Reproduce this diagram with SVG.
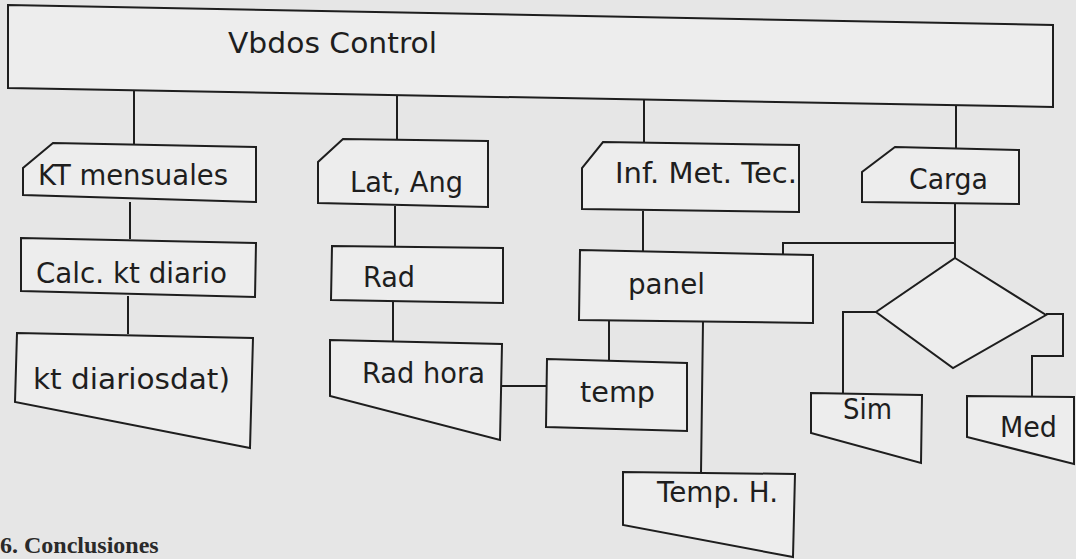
<svg xmlns="http://www.w3.org/2000/svg" width="1076" height="559" viewBox="0 0 1076 559">
<style>
.s{fill:#ededed;stroke:#1e1e1e;stroke-width:2;stroke-linejoin:miter}
.c{fill:none;stroke:#1e1e1e;stroke-width:2}
.t{font-family:"DejaVu Sans",Verdana,sans-serif;font-size:29px;fill:#1e1e1e}
.h{font-family:"Liberation Serif",serif;font-weight:bold;font-size:24px;fill:#2a2a2a}
</style>
<rect x="0" y="0" width="1076" height="559" fill="#e6e6e6"/>
<g id="connectors">
<path class="c" d="M134 90V145M397 95V141M644 100V143M956 106V148"/>
<path class="c" d="M130 202V239M128 296V334M395 206V247M393 302V341M643 211V251M609 321V360M703 321L701 473M502 386H547"/>
<path class="c" d="M955 203V258M955 243H783V254M876 312H843V393M1046 314H1063V356H1032V397"/>
</g>
<g id="vbdos"><polygon class="s" points="8,5 1053,25 1053,107 8,88"/><text class="t" x="228" y="53" font-size="31" textLength="209" lengthAdjust="spacingAndGlyphs">Vbdos Control</text></g>
<g id="kt-mensuales"><polygon class="s" points="53,143 256,147 256,202 23,195 23,168"/><text class="t" x="38" y="185" textLength="190" lengthAdjust="spacingAndGlyphs">KT mensuales</text></g>
<g id="calc-kt"><polygon class="s" points="21,238 256,243 255,297 21,291"/><text class="t" x="36" y="283" textLength="191" lengthAdjust="spacingAndGlyphs">Calc. kt diario</text></g>
<g id="kt-diario"><polygon class="s" points="17,333 253,338 250,448 15,402"/><text class="t" x="33" y="389" textLength="197" lengthAdjust="spacingAndGlyphs">kt diariosdat)</text></g>
<g id="lat-ang"><polygon class="s" points="343,139 488,141 488,207 318,203 318,162"/><text class="t" x="350" y="192" textLength="113" lengthAdjust="spacingAndGlyphs">Lat, Ang</text></g>
<g id="rad"><polygon class="s" points="332,246 503,248 503,303 331,300"/><text class="t" x="363" y="287" textLength="52" lengthAdjust="spacingAndGlyphs">Rad</text></g>
<g id="rad-hora"><polygon class="s" points="330,340 502,344 500,440 330,396"/><text class="t" x="362" y="383" textLength="123" lengthAdjust="spacingAndGlyphs">Rad hora</text></g>
<g id="inf-met"><polygon class="s" points="603,142 799,145 799,212 582,209 582,168"/><text class="t" x="615" y="183" textLength="182" lengthAdjust="spacingAndGlyphs">Inf. Met. Tec.</text></g>
<g id="panel"><polygon class="s" points="580,250 813,255 813,323 579,320"/><text class="t" x="628" y="294" textLength="77" lengthAdjust="spacingAndGlyphs">panel</text></g>
<g id="temp"><polygon class="s" points="547,359 687,363 687,431 546,427"/><text class="t" x="580" y="402" textLength="75" lengthAdjust="spacingAndGlyphs">temp</text></g>
<g id="temp-h"><polygon class="s" points="623,472 795,474 793,557 623,525"/><text class="t" x="657" y="502" textLength="121" lengthAdjust="spacingAndGlyphs">Temp. H.</text></g>
<g id="carga"><polygon class="s" points="895,147 1019,150 1019,204 862,202 862,172"/><text class="t" x="909" y="189" textLength="79" lengthAdjust="spacingAndGlyphs">Carga</text></g>
<g id="decision"><polygon class="s" points="955,258 1046,315 953,368 876,312"/></g>
<g id="sim"><polygon class="s" points="811,393 922,395 921,463 811,433"/><text class="t" x="843" y="419" textLength="49" lengthAdjust="spacingAndGlyphs">Sim</text></g>
<g id="med"><polygon class="s" points="967,396 1074,397 1074,464 967,437"/><text class="t" x="1000" y="437" textLength="57" lengthAdjust="spacingAndGlyphs">Med</text></g>
<text class="h" x="0" y="553">6. Conclusiones</text>
</svg>
